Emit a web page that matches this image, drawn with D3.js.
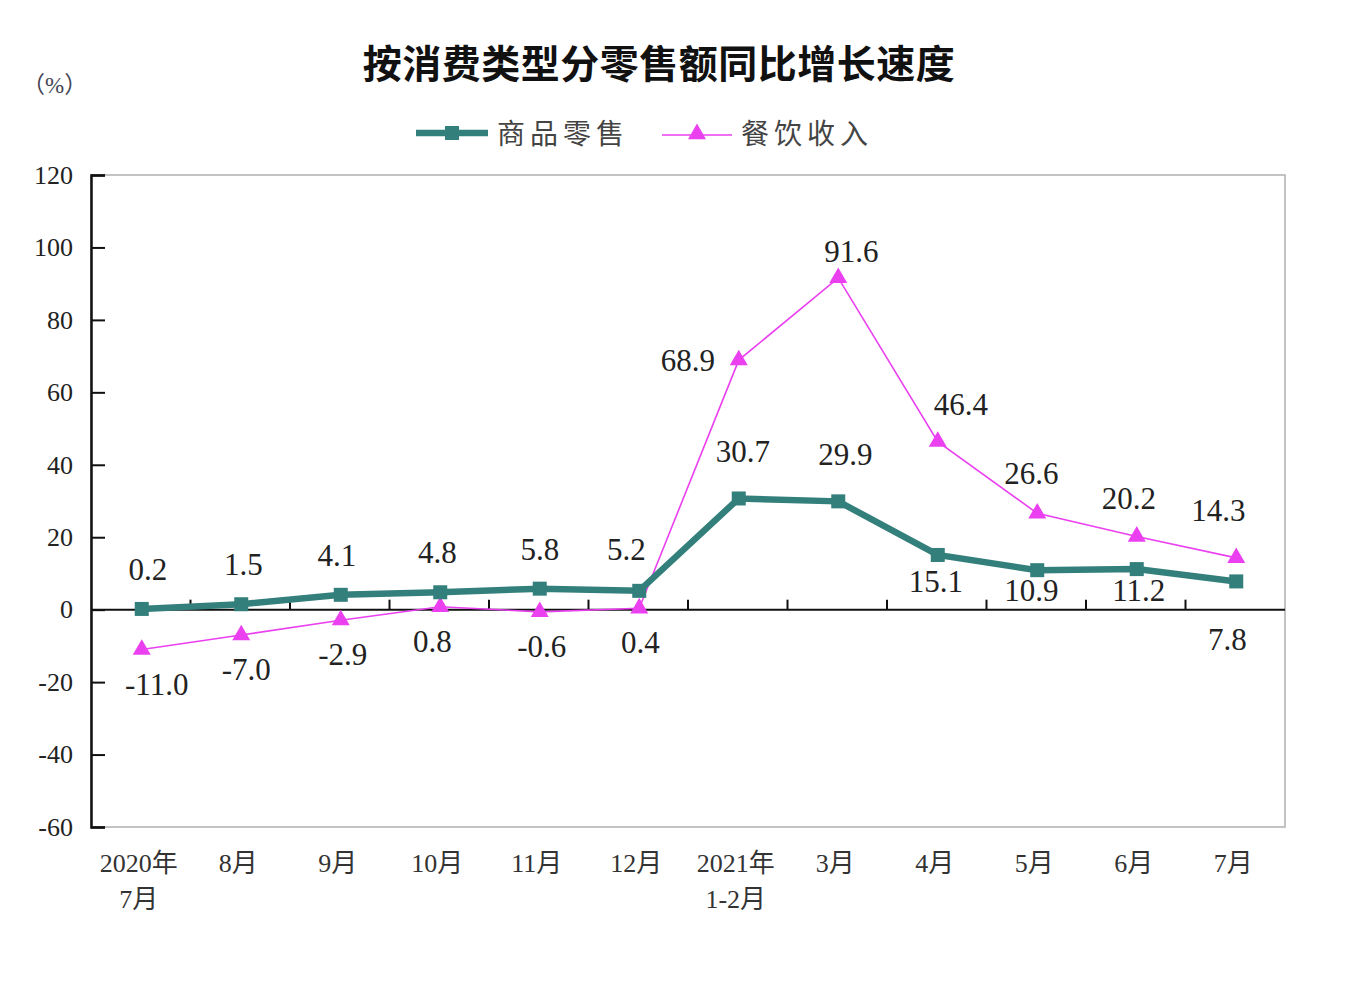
<!DOCTYPE html>
<html><head><meta charset="utf-8">
<script src="https://cdn.jsdelivr.net/npm/d3@7"></script>
<style>body{margin:0;background:#fff}</style>
</head><body>
<svg id="c" width="1362" height="984"></svg>
<script>
const categories = [["2020年","7月"],["8月"],["9月"],["10月"],["11月"],["12月"],["2021年","1-2月"],["3月"],["4月"],["5月"],["6月"],["7月"]];
const goodsRetail = [0.2,1.5,4.1,4.8,5.8,5.2,30.7,29.9,15.1,10.9,11.2,7.8];
const catering = [-11.0,-7.0,-2.9,0.8,-0.6,0.4,68.9,91.6,46.4,26.6,20.2,14.3];
const yTicks = [-60,-40,-20,0,20,40,60,80,100,120];
const seriesNames = ["商品零售","餐饮收入"];
const titleText = "按消费类型分零售额同比增长速度";

// label offsets (px) relative to the point
const goodsLabelOff = [[6,-29],[2,-29],[-4,-29],[-3,-29],[0,-29],[-13,-31],[4,-36],[7,-36],[-2,37],[-6,31],[2,32],[-9,69]];
const caterLabelOff = [[15,45],[5,45],[2,45],[-8,45],[2,45],[1,45],[-51,11],[13,-16],[23,-27],[-6,-29],[-8,-27],[-18,-37]];

const svg = d3.select("#c");
const L=91, R=1285, T=175, B=827;
const serif = '"Liberation Serif","Noto Sans CJK SC",serif';
const x = d3.scaleBand().domain(d3.range(categories.length)).range([L,R]);
const cx = i => x(i) + x.bandwidth()/2 + 1;
const y = d3.scaleLinear().domain([-60,120]).range([B,T]);
const hy = s => s.replace(/\u2212/g,"-");

// frame
svg.append("rect").attr("x",L).attr("y",T).attr("width",R-L).attr("height",B-T)
  .attr("fill","none").attr("stroke","#b0b0b0").attr("stroke-width",1.5);

// left axis
const yAxis = d3.axisLeft(y).tickValues(yTicks).tickSize(-14).tickPadding(18).tickFormat(d=>hy(d3.format("d")(d)));
const ga = svg.append("g").attr("transform",`translate(${L},0)`).call(yAxis);
ga.select(".domain").attr("stroke","#111").attr("stroke-width",2.5);
ga.selectAll(".tick line").attr("stroke","#111").attr("stroke-width",2);
ga.selectAll(".tick text").attr("font-family",serif).attr("font-size",26).attr("fill","#222").attr("x",-18);

// zero line with ticks
const gz = svg.append("g").attr("transform",`translate(0,${y(0)})`);
gz.append("line").attr("x1",L).attr("x2",R).attr("stroke","#111").attr("stroke-width",2);
gz.selectAll("line.t").data(d3.range(1,categories.length)).join("line").attr("class","t")
  .attr("x1",i=>x(i)).attr("x2",i=>x(i)).attr("y1",0).attr("y2",-10)
  .attr("stroke","#111").attr("stroke-width",2);

// x labels
const gx = svg.append("g");
categories.forEach((c,i)=>{
  const t = gx.append("text").attr("font-family",serif).attr("font-size",26).attr("fill","#333")
    .attr("text-anchor","middle");
  c.forEach((s,k)=>t.append("tspan").attr("x",cx(i)-3).attr("y",872+k*36).text(s));
});

const teal="#337f7b", mag="#ea40f0";
const line = d3.line().x((d,i)=>cx(i)).y(d=>y(d));

// catering
svg.append("path").datum(catering).attr("d",line).attr("fill","none").attr("stroke",mag).attr("stroke-width",1.6);
svg.selectAll("path.tri").data(catering).join("path").attr("class","tri")
  .attr("d",d3.symbol().type(d3.symbolTriangle).size(140))
  .attr("transform",(d,i)=>`translate(${cx(i)},${y(d)})`).attr("fill",mag);

// goods
svg.append("path").datum(goodsRetail).attr("d",line).attr("fill","none").attr("stroke",teal).attr("stroke-width",6.5);
svg.selectAll("rect.sq").data(goodsRetail).join("rect").attr("class","sq")
  .attr("x",(d,i)=>cx(i)-7).attr("y",d=>y(d)-7).attr("width",14).attr("height",14).attr("fill",teal);

// value labels
const fmt = d => hy(d3.format(".1f")(d));
svg.selectAll("text.gl").data(goodsRetail).join("text").attr("class","gl")
  .attr("x",(d,i)=>cx(i)+goodsLabelOff[i][0]).attr("y",(d,i)=>y(d)+goodsLabelOff[i][1])
  .attr("text-anchor","middle").attr("font-family",serif).attr("font-size",31).attr("fill","#222").text(fmt);
svg.selectAll("text.cl").data(catering).join("text").attr("class","cl")
  .attr("x",(d,i)=>cx(i)+caterLabelOff[i][0]).attr("y",(d,i)=>y(d)+caterLabelOff[i][1])
  .attr("text-anchor","middle").attr("font-family",serif).attr("font-size",31).attr("fill","#222").text(fmt);

// title
svg.append("text").attr("x",659).attr("y",78).attr("text-anchor","middle")
  .attr("font-family",'"Noto Sans CJK SC",sans-serif').attr("font-weight","bold").attr("font-size",39)
  .attr("letter-spacing",0.5).attr("fill","#111").text(titleText);

// unit
svg.append("text").attr("x",22).attr("y",93).attr("font-family",serif).attr("font-size",23).attr("fill","#445").text("（%）");

// legend
const lg = svg.append("g");
lg.append("line").attr("x1",416).attr("x2",488).attr("y1",133).attr("y2",133).attr("stroke",teal).attr("stroke-width",6.5);
lg.append("rect").attr("x",445).attr("y",126).attr("width",14).attr("height",14).attr("fill",teal);
lg.append("text").attr("x",497).attr("y",144).attr("font-family",serif).attr("font-size",28).attr("letter-spacing",5).attr("fill","#444").text(seriesNames[0]);
lg.append("line").attr("x1",662).attr("x2",732).attr("y1",135).attr("y2",135).attr("stroke",mag).attr("stroke-width",1.6);
lg.append("path").attr("d",d3.symbol().type(d3.symbolTriangle).size(140)).attr("transform","translate(697,134)").attr("fill",mag);
lg.append("text").attr("x",741).attr("y",144).attr("font-family",serif).attr("font-size",28).attr("letter-spacing",5).attr("fill","#444").text(seriesNames[1]);
</script>
</body></html>
